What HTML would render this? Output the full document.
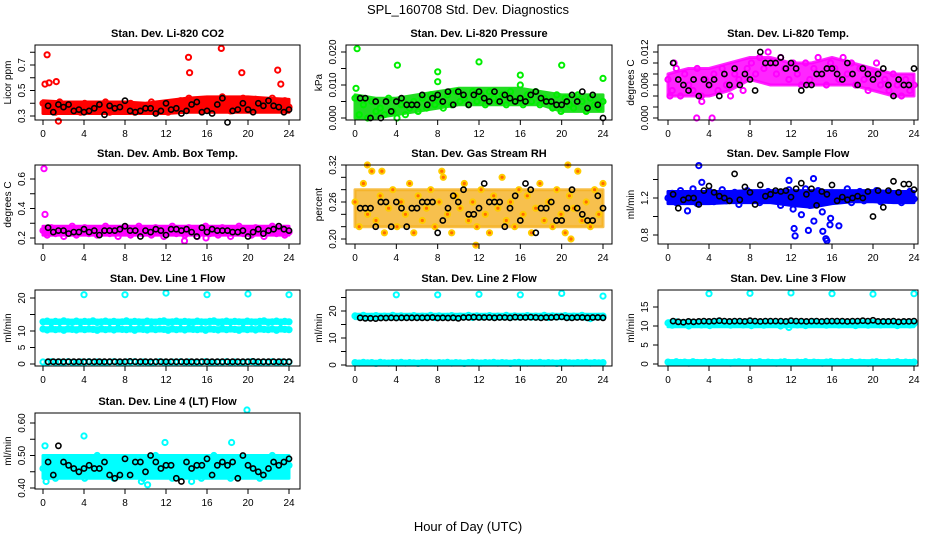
<!DOCTYPE html>
<html><head><meta charset="utf-8">
<style>
html,body{margin:0;padding:0;background:#fff;}
svg{display:block;font-family:"Liberation Sans",Arial,sans-serif;}
</style></head>
<body>
<svg id="chart" width="936" height="540" viewBox="0 0 936 540">
<text x="468" y="14" text-anchor="middle" font-size="13">SPL_160708  Std. Dev. Diagnostics</text>
<text x="468" y="531" text-anchor="middle" font-size="13">Hour of Day (UTC)</text>
</svg>
<script>
// ---- data ----
const xTicks = [0,4,8,12,16,20,24];

const co2Vals = [0.40,0.35,0.38,0.33,0.41,0.36,0.34,0.39,0.37,0.33,0.40,0.35,0.38,0.34,0.36,0.41,0.33,0.37,0.39,0.34,0.36,0.40,0.33,0.38,0.35,0.37,0.41,0.34,0.36,0.39,0.33,0.38,0.36,0.42,0.35,0.44,0.37,0.40,0.34,0.43,0.38,0.41,0.36,0.45,0.39,0.34,0.42,0.37,0.44,0.40,0.35,0.43,0.38,0.41,0.36,0.44,0.39,0.35,0.42,0.37];
const co2OutHours = [0.4,0.2,0.6,1.3,14.2,14.3,17.4,19.4,22.9,23.2,1.5];
const co2OutVals = [0.78,0.55,0.56,0.57,0.76,0.64,0.83,0.64,0.66,0.55,0.26];
const co2Black = [0.38,0.33,0.39,0.37,0.39,0.34,0.35,0.33,0.34,0.36,0.39,0.31,0.38,0.36,0.37,0.42,0.34,0.33,0.34,0.36,0.36,0.32,0.34,0.40,0.35,0.36,0.32,0.34,0.39,0.41,0.33,0.34,0.32,0.39,0.44,0.25,0.34,0.35,0.40,0.35,0.33,0.40,0.38,0.42,0.38,0.37,0.33,0.35];
const co2BandLo = [0.32,0.32,0.32,0.32,0.32,0.32,0.32,0.33,0.33,0.33,0.33,0.33,0.33];
const co2BandHi = [0.42,0.41,0.41,0.41,0.41,0.40,0.42,0.44,0.45,0.45,0.45,0.44,0.43];

const presVals = [0.006,0.001,0.004,0.000,0.005,0.002,0.003,0.001,0.006,0.002,0.000,0.004,0.001,0.003,0.005,0.002,0.006,0.003,0.007,0.004,0.005,0.003,0.007,0.004,0.008,0.005,0.006,0.004,0.008,0.005,0.007,0.004,0.008,0.006,0.005,0.007,0.004,0.008,0.005,0.006,0.004,0.007,0.005,0.008,0.004,0.006,0.005,0.003,0.007,0.002,0.006,0.004,0.003,0.007,0.005,0.002,0.006,0.004,0.003,0.005];
const presOutHours = [0.2,0.1,4.1,8.0,8.0,12.0,16.0,16.0,20.0,24.0];
const presOutVals = [0.021,0.009,0.016,0.014,0.011,0.017,0.013,0.010,0.016,0.012];
const presBlack = [0.006,0.006,0.000,0.005,0.000,0.005,0.002,0.005,0.006,0.004,0.004,0.004,0.007,0.004,0.006,0.007,0.005,0.008,0.004,0.008,0.007,0.004,0.007,0.008,0.006,0.005,0.008,0.005,0.007,0.006,0.005,0.006,0.005,0.007,0.008,0.006,0.005,0.005,0.004,0.004,0.005,0.007,0.005,0.008,0.003,0.007,0.004,0.000];
const presBandLo = [0.000,0.000,0.001,0.002,0.003,0.004,0.004,0.004,0.004,0.004,0.002,0.002,0.002];
const presBandHi = [0.007,0.006,0.006,0.007,0.008,0.009,0.009,0.009,0.009,0.008,0.007,0.007,0.007];

const tempVals = [0.007,0.005,0.009,0.004,0.008,0.006,0.005,0.009,0.004,0.007,0.006,0.008,0.005,0.009,0.006,0.004,0.008,0.007,0.005,0.009,0.010,0.008,0.011,0.009,0.012,0.010,0.008,0.011,0.009,0.007,0.010,0.008,0.006,0.010,0.007,0.009,0.011,0.008,0.006,0.010,0.009,0.007,0.011,0.008,0.010,0.006,0.009,0.007,0.005,0.008,0.010,0.006,0.007,0.005,0.008,0.006,0.004,0.007,0.005,0.006];
const tempOutHours = [2.8,4.3,3.3,0.6,0.2];
const tempOutVals = [0.000,0.000,0.003,0.010,0.004];
const tempBlack = [0.010,0.007,0.006,0.005,0.007,0.004,0.007,0.006,0.007,0.004,0.008,0.006,0.009,0.006,0.008,0.007,0.005,0.012,0.010,0.010,0.010,0.011,0.009,0.010,0.009,0.005,0.006,0.006,0.008,0.008,0.009,0.009,0.008,0.007,0.010,0.008,0.006,0.009,0.008,0.007,0.008,0.009,0.006,0.004,0.007,0.006,0.006,0.009];
const tempBandLo = [0.004,0.004,0.004,0.005,0.007,0.006,0.006,0.006,0.006,0.006,0.005,0.004,0.004];
const tempBandHi = [0.008,0.009,0.009,0.010,0.011,0.011,0.010,0.010,0.011,0.010,0.009,0.008,0.008];

const ambVals = [0.25,0.22,0.27,0.23,0.26,0.21,0.25,0.28,0.22,0.24,0.27,0.23,0.26,0.22,0.25,0.28,0.23,0.26,0.21,0.24,0.27,0.22,0.25,0.28,0.23,0.26,0.22,0.27,0.24,0.21,0.25,0.28,0.23,0.26,0.22,0.27,0.24,0.21,0.26,0.28,0.23,0.25,0.22,0.27,0.24,0.21,0.26,0.28,0.23,0.25,0.22,0.27,0.24,0.21,0.26,0.28,0.23,0.25,0.22,0.24];
const ambOutHours = [0.1,0.2,13.8,15.9];
const ambOutVals = [0.67,0.36,0.18,0.20];
const ambBlack = [0.27,0.24,0.25,0.25,0.23,0.24,0.24,0.26,0.24,0.25,0.22,0.25,0.25,0.25,0.26,0.28,0.25,0.25,0.21,0.25,0.24,0.26,0.25,0.22,0.26,0.26,0.25,0.26,0.24,0.21,0.27,0.24,0.26,0.25,0.25,0.25,0.24,0.24,0.25,0.21,0.24,0.26,0.23,0.25,0.26,0.28,0.26,0.25];
const ambBandLo = [0.22,0.22,0.22,0.22,0.22,0.22,0.22,0.22,0.22,0.22,0.22,0.22,0.22];
const ambBandHi = [0.28,0.28,0.28,0.28,0.28,0.28,0.28,0.28,0.28,0.28,0.28,0.28,0.28];

const rhVals = [0.26,0.22,0.29,0.24,0.31,0.23,0.27,0.21,0.25,0.28,0.22,0.26,0.24,0.29,0.21,0.27,0.23,0.25,0.28,0.22,0.26,0.30,0.24,0.21,0.27,0.25,0.29,0.23,0.26,0.22,0.28,0.24,0.21,0.27,0.25,0.30,0.23,0.26,0.22,0.28,0.24,0.27,0.21,0.25,0.29,0.23,0.26,0.22,0.28,0.24,0.21,0.27,0.25,0.31,0.23,0.26,0.22,0.28,0.24,0.29];
const rhOutHours = [1.2,2.6,8.4,11.7,20.6,20.9];
const rhOutVals = [0.32,0.31,0.31,0.19,0.32,0.20];
const rhBlack = [0.25,0.25,0.25,0.22,0.26,0.26,0.22,0.26,0.25,0.22,0.25,0.25,0.26,0.26,0.26,0.21,0.23,0.25,0.27,0.26,0.28,0.24,0.24,0.25,0.29,0.26,0.26,0.26,0.22,0.25,0.27,0.23,0.29,0.28,0.21,0.25,0.25,0.26,0.23,0.23,0.25,0.28,0.25,0.24,0.23,0.23,0.27,0.25];
const rhBandLo = [0.22,0.22,0.22,0.22,0.22,0.22,0.22,0.22,0.22,0.22,0.22,0.22,0.22];
const rhBandHi = [0.28,0.28,0.28,0.28,0.28,0.28,0.28,0.28,0.28,0.28,0.28,0.28,0.28];

const flowVals = [1.20,1.25,1.15,1.28,1.18,1.22,1.30,1.14,1.24,1.19,1.27,1.16,1.22,1.29,1.17,1.21,1.26,1.13,1.23,1.28,1.18,1.25,1.15,1.21,1.27,1.19,1.24,1.12,1.22,1.29,1.08,1.25,1.02,1.30,1.12,0.95,1.28,1.05,1.20,0.98,1.24,0.90,1.18,1.30,1.15,1.22,1.27,1.17,1.24,1.20,1.28,1.16,1.22,1.26,1.18,1.24,1.15,1.21,1.27,1.19];
const flowOutHours = [3.0,3.3,1.9,12.3,12.4,13.7,15.1,15.4,15.5,15.8,11.8,14.2];
const flowOutVals = [1.55,1.37,1.06,0.87,0.79,0.85,0.84,0.76,0.74,0.91,1.39,1.41];
const flowBlack = [1.24,1.09,1.18,1.20,1.20,1.13,1.28,1.33,1.26,1.22,1.20,1.17,1.46,1.18,1.32,1.26,1.13,1.34,1.22,1.24,1.28,1.27,1.28,1.21,1.30,1.36,1.24,1.30,1.12,1.27,1.24,1.34,1.17,1.21,1.18,1.20,1.22,1.20,1.27,1.00,1.28,1.10,1.28,1.38,1.26,1.35,1.35,1.29];
const flowBandLo = [1.14,1.14,1.14,1.15,1.15,1.15,1.12,1.10,1.14,1.16,1.16,1.15,1.15];
const flowBandHi = [1.27,1.27,1.27,1.27,1.28,1.28,1.28,1.28,1.28,1.28,1.28,1.27,1.27];

const l1High = [12.8,13.0,12.6,12.9,12.7,13.1,12.8,12.6,13.0,12.7,12.9,12.8,13.1,12.6,12.8,13.0,12.7,12.9,12.6,12.8,13.1,12.7,12.9,12.8,12.6,13.0,12.8,12.7,12.9,13.1,12.6,12.8,13.0,12.7,12.9,12.8,12.6,13.0,12.8,12.7,12.9,13.1,12.6,12.8,13.0,12.7,12.9,12.8,12.6,13.0,12.8,12.7,12.9,13.1,12.6,12.8,13.0,12.7,12.9,12.8];
const l1Mid = [10.6,10.3,10.8,10.4,10.6,10.2,10.7,10.5,10.3,10.8,10.4,10.6,10.5,10.2,10.7,10.4,10.6,10.3,10.8,10.5,10.4,10.6,10.2,10.7,10.5,10.3,10.8,10.4,10.6,10.5,10.2,10.7,10.4,10.6,10.3,10.8,10.5,10.4,10.6,10.2,10.7,10.5,10.3,10.8,10.4,10.6,10.5,10.2,10.7,10.4,10.6,10.3,10.8,10.5,10.4,10.6,10.2,10.7,10.5,10.4];
const l1Low = [0.6,0.4,0.7,0.5,0.6,0.3,0.7,0.5,0.4,0.6,0.5,0.7,0.4,0.6,0.5,0.3,0.6,0.7,0.5,0.4,0.6,0.5,0.7,0.4,0.6,0.5,0.3,0.6,0.7,0.5,0.4,0.6,0.5,0.7,0.4,0.6,0.5,0.3,0.6,0.7,0.5,0.4,0.6,0.5,0.7,0.4,0.6,0.5,0.3,0.6,0.7,0.5,0.4,0.6,0.5,0.7,0.4,0.6,0.5,0.6];
const l1OutHours = [4,8,12,16,20,24];
const l1OutVals = [21.0,21.0,21.5,21.0,21.2,21.0];
const l1Black = [0.7,0.7,0.7,0.7,0.7,0.7,0.7,0.7,0.7,0.7,0.7,0.7,0.7,0.7,0.7,0.7,0.8,0.7,0.7,0.7,0.7,0.7,0.7,0.7,0.7,0.7,0.7,0.7,0.7,0.7,0.7,0.7,0.7,0.7,0.7,0.7,0.7,0.7,0.7,0.7,0.8,0.7,0.7,0.7,0.7,0.7,0.7,0.7];
const l1BandTopLo = [12.3,12.3,12.3,12.3,12.3,12.3,12.3,12.3,12.3,12.3,12.3,12.3,12.3];
const l1BandTopHi = [13.3,13.3,13.3,13.3,13.3,13.3,13.3,13.3,13.3,13.3,13.3,13.3,13.3];
const l1BandMidLo = [10.0,10.0,10.0,10.0,10.0,10.0,10.0,10.0,10.0,10.0,10.0,10.0,10.0];
const l1BandMidHi = [11.0,11.0,11.0,11.0,11.0,11.0,11.0,11.0,11.0,11.0,11.0,11.0,11.0];

const l2High = [18.2,17.8,18.4,17.6,18.0,18.3,17.7,18.1,17.9,18.4,17.6,18.2,17.8,18.0,18.3,17.7,18.1,17.9,18.4,17.6,18.2,17.8,18.0,18.3,17.7,18.1,17.9,18.4,17.6,18.2,17.8,18.0,18.3,17.7,18.1,17.9,18.4,17.6,18.2,17.8,18.0,18.3,17.7,18.1,17.9,18.4,17.6,18.2,17.8,18.0,18.3,17.7,18.1,17.9,18.4,17.6,17.2,17.8,18.0,18.1];
const l2Low = [0.9,0.7,1.0,0.8,0.9,0.6,1.0,0.8,0.7,0.9,0.8,1.0,0.7,0.9,0.8,0.6,0.9,1.0,0.8,0.7,0.9,0.8,1.0,0.7,0.9,0.8,0.6,0.9,1.0,0.8,0.7,0.9,0.8,1.0,0.7,0.9,0.8,0.6,0.9,1.0,0.8,0.7,0.9,0.8,1.0,0.7,0.9,0.8,0.6,0.9,1.0,0.8,0.7,0.9,0.8,1.0,0.7,0.9,0.8,0.9];
const l2OutHours = [4,8,12,16,20,24];
const l2OutVals = [26.0,26.0,26.2,26.0,26.5,25.5];
const l2Black = [17.5,17.3,17.3,17.2,17.4,17.4,17.5,17.4,17.5,17.5,17.5,17.5,17.5,17.5,17.6,17.4,17.5,17.4,17.5,17.3,17.6,17.6,17.7,17.6,17.6,17.6,17.5,17.6,17.6,17.5,17.7,17.6,17.6,17.7,17.6,17.5,17.6,17.6,17.7,17.8,17.5,17.5,17.6,17.6,17.5,17.6,17.6,17.5];
const l2BandTopLo = [17.2,17.2,17.2,17.2,17.2,17.2,17.2,17.2,17.2,17.2,17.2,17.2,17.2];
const l2BandTopHi = [18.8,18.8,18.8,18.8,18.8,18.8,18.8,18.8,18.8,18.8,18.8,18.8,18.8];
const l2BandLowLo = [0.2,0.2,0.2,0.2,0.2,0.2,0.2,0.2,0.2,0.2,0.2,0.2,0.2];
const l2BandLowHi = [1.4,1.4,1.4,1.4,1.4,1.4,1.4,1.4,1.4,1.4,1.4,1.4,1.4];

const l3High = [10.8,10.2,11.1,10.4,10.7,10.0,11.0,10.5,10.3,10.9,10.1,10.6,11.2,10.4,10.8,10.2,10.6,11.0,10.3,10.7,10.1,10.9,10.5,10.2,11.0,10.4,10.7,10.0,10.8,9.6,10.6,10.3,10.9,10.1,10.7,11.1,10.4,10.6,10.2,10.9,10.5,10.3,11.0,10.4,10.7,10.1,10.8,10.5,10.2,10.9,10.6,10.3,11.0,10.4,10.7,10.1,10.8,10.5,10.3,10.6];
const l3Low = [0.5,0.3,0.6,0.4,0.5,0.2,0.6,0.4,0.3,0.5,0.4,0.6,0.3,0.5,0.4,0.2,0.5,0.6,0.4,0.3,0.5,0.4,0.6,0.3,0.5,0.4,0.2,0.5,0.6,0.4,0.3,0.5,0.4,0.6,0.3,0.5,0.4,0.2,0.5,0.6,0.4,0.3,0.5,0.4,0.6,0.3,0.5,0.4,0.2,0.5,0.6,0.4,0.3,0.5,0.4,0.6,0.3,0.5,0.4,0.5];
const l3OutHours = [4,8,12,16,20,24];
const l3OutVals = [18.5,18.6,18.7,18.5,18.4,18.5];
const l3Black = [11.3,11.1,11.0,11.2,11.1,11.2,11.3,11.2,11.3,11.4,11.3,11.2,11.3,11.3,11.2,11.4,11.3,11.2,11.3,11.3,11.3,11.3,11.2,11.4,11.3,11.3,11.2,11.3,11.3,11.2,11.3,11.3,11.3,11.3,11.2,11.3,11.3,11.4,11.3,11.5,11.2,11.2,11.2,11.3,11.1,11.2,11.2,11.3];
const l3BandTopLo = [9.8,9.8,9.8,9.8,9.8,9.8,9.8,9.8,9.8,9.8,9.8,9.8,9.8];
const l3BandTopHi = [11.4,11.4,11.4,11.4,11.4,11.4,11.4,11.4,11.4,11.4,11.4,11.4,11.4];
const l3BandLowLo = [0.0,0.0,0.0,0.0,0.0,0.0,0.0,0.0,0.0,0.0,0.0,0.0,0.0];
const l3BandLowHi = [0.9,0.9,0.9,0.9,0.9,0.9,0.9,0.9,0.9,0.9,0.9,0.9,0.9];

const l4Vals = [0.46,0.44,0.48,0.43,0.47,0.45,0.49,0.44,0.46,0.48,0.43,0.47,0.45,0.50,0.44,0.46,0.48,0.43,0.47,0.45,0.49,0.44,0.46,0.48,0.43,0.47,0.45,0.50,0.44,0.46,0.48,0.43,0.47,0.45,0.49,0.44,0.46,0.48,0.43,0.47,0.45,0.50,0.44,0.46,0.48,0.43,0.47,0.45,0.49,0.44,0.46,0.48,0.43,0.47,0.45,0.50,0.44,0.46,0.48,0.47];
const l4OutHours = [0.2,4.0,11.9,18.4,19.9,9.6,10.2,14.5,0.3];
const l4OutVals = [0.53,0.56,0.54,0.54,0.64,0.42,0.41,0.42,0.42];
const l4Black = [0.48,0.44,0.53,0.48,0.47,0.46,0.45,0.46,0.47,0.46,0.46,0.48,0.44,0.43,0.44,0.49,0.44,0.48,0.48,0.45,0.50,0.48,0.46,0.47,0.47,0.43,0.42,0.48,0.46,0.47,0.47,0.49,0.44,0.47,0.48,0.47,0.48,0.43,0.50,0.47,0.46,0.45,0.44,0.46,0.48,0.47,0.48,0.49];
const l4BandLo = [0.43,0.43,0.43,0.43,0.43,0.43,0.43,0.43,0.43,0.43,0.43,0.43,0.43];
const l4BandHi = [0.50,0.50,0.50,0.50,0.50,0.50,0.50,0.50,0.50,0.50,0.50,0.50,0.50];

// ---- layout ----
const NS = 'http://www.w3.org/2000/svg';
const svg = document.getElementById('chart');
const cols = [{bx0:35,bx1:300,x0:43,x24:289},{bx0:346,bx1:612,x0:355,x24:603},{bx0:658,bx1:918,x0:668,x24:914}];
const rows = [{by0:45,by1:120},{by0:165,by1:244},{by0:290,by1:366},{by0:413,by1:489}];

function el(tag, attrs, parent){
  const e = document.createElementNS(NS, tag);
  for (const k in attrs) e.setAttribute(k, attrs[k]);
  (parent||svg).appendChild(e);
  return e;
}

const panels = [
 {key:'co2',title:'Stan. Dev. Li-820 CO2',ylab:'Licor ppm',c:0,r:0,v0:0.3,p0:116,v1:0.7,p1:65,ticks:[0.3,0.4,0.5,0.6,0.7,0.8],labels:['0.3','0.5','0.7'],color:'#ff0000',bandColor:'#ff0000',bandOp:1,series:[co2Vals],bands:[[co2BandLo,co2BandHi]],outH:co2OutHours,outV:co2OutVals,black:co2Black},
 {key:'pressure',title:'Stan. Dev. Li-820 Pressure',ylab:'kPa',c:1,r:0,v0:0,p0:118,v1:0.02,p1:52,ticks:[0,0.005,0.01,0.015,0.02],labels:['0.000','0.010','0.020'],color:'#00ee00',bandColor:'#22dd22',bandOp:1,series:[presVals],bands:[[presBandLo,presBandHi]],outH:presOutHours,outV:presOutVals,black:presBlack},
 {key:'temp',title:'Stan. Dev. Li-820 Temp.',ylab:'degrees C',c:2,r:0,v0:0,p0:118,v1:0.012,p1:52,ticks:[0,0.002,0.004,0.006,0.008,0.01,0.012],labels:['0.000','0.006','0.012'],color:'#ff00ff',bandColor:'#ff00ff',bandOp:0.85,series:[tempVals],bands:[[tempBandLo,tempBandHi]],outH:tempOutHours,outV:tempOutVals,black:tempBlack},
 {key:'amb',title:'Stan. Dev. Amb. Box Temp.',ylab:'degrees C',c:0,r:1,v0:0.2,p0:238,v1:0.6,p1:179,ticks:[0.2,0.3,0.4,0.5,0.6],labels:['0.2','0.4','0.6'],color:'#ff00ff',bandColor:'#ff00ff',bandOp:1,series:[ambVals],bands:[[ambBandLo,ambBandHi]],outH:ambOutHours,outV:ambOutVals,black:ambBlack},
 {key:'rh',title:'Stan. Dev. Gas Stream RH',ylab:'percent',c:1,r:1,v0:0.2,p0:239,v1:0.32,p1:165,ticks:[0.2,0.22,0.24,0.26,0.28,0.3,0.32],labels:['0.20','0.26','0.32'],color:'#ffcc00',fill:'#ff6a00',bandColor:'#f5b020',bandOp:0.8,series:[rhVals],bands:[[rhBandLo,rhBandHi]],outH:rhOutHours,outV:rhOutVals,black:rhBlack},
 {key:'sample-flow',title:'Stan. Dev. Sample Flow',ylab:'ml/min',c:2,r:1,v0:0.8,p0:235,v1:1.2,p1:198,ticks:[0.8,1.0,1.2,1.4],labels:['0.8','1.2'],color:'#0000ff',bandColor:'#0000ff',bandOp:1,series:[flowVals],bands:[[flowBandLo,flowBandHi]],outH:flowOutHours,outV:flowOutVals,black:flowBlack},
 {key:'line1',title:'Stan. Dev. Line 1 Flow',ylab:'ml/min',c:0,r:2,v0:0,p0:364,v1:20,p1:298,ticks:[0,5,10,15,20],labels:['0','5','10','20'],color:'#00ffff',bandColor:'#00ffff',bandOp:1,series:[l1High,l1Mid,l1Low],bands:[[l1BandTopLo,l1BandTopHi],[l1BandMidLo,l1BandMidHi]],outH:l1OutHours,outV:l1OutVals,black:l1Black},
 {key:'line2',title:'Stan. Dev. Line 2 Flow',ylab:'ml/min',c:1,r:2,v0:0,p0:365,v1:20,p1:311,ticks:[0,5,10,15,20,25],labels:['0','10','20'],color:'#00ffff',bandColor:'#00ffff',bandOp:1,series:[l2High,l2Low],bands:[[l2BandTopLo,l2BandTopHi],[l2BandLowLo,l2BandLowHi]],outH:l2OutHours,outV:l2OutVals,black:l2Black},
 {key:'line3',title:'Stan. Dev. Line 3 Flow',ylab:'ml/min',c:2,r:2,v0:0,p0:364,v1:15,p1:307,ticks:[0,5,10,15],labels:['0','5','10','15'],color:'#00ffff',bandColor:'#00ffff',bandOp:1,series:[l3High,l3Low],bands:[[l3BandTopLo,l3BandTopHi],[l3BandLowLo,l3BandLowHi]],outH:l3OutHours,outV:l3OutVals,black:l3Black},
 {key:'line4',title:'Stan. Dev. Line 4 (LT) Flow',ylab:'ml/min',c:0,r:3,v0:0.4,p0:488,v1:0.6,p1:423,ticks:[0.4,0.45,0.5,0.55,0.6],labels:['0.40','0.50','0.60'],color:'#00ffff',bandColor:'#00ffff',bandOp:1,series:[l4Vals],bands:[[l4BandLo,l4BandHi]],outH:l4OutHours,outV:l4OutVals,black:l4Black}
];

panels.forEach(p=>{
  const col = cols[p.c], row = rows[p.r];
  const xs = h => col.x0 + (col.x24-col.x0)*h/24;
  const ys = v => p.p0 + (p.p1-p.p0)*(v-p.v0)/(p.v1-p.v0);
  const g = el('g', {});
  
  

  const t = el('text',{x:(col.bx0+col.bx1)/2,y:row.by0-8,'text-anchor':'middle','font-size':'11','font-weight':'bold'},g);
  t.textContent = p.title;
  
  

  // dense bands
  p.bands.forEach(([lo,hi])=>{
    const n = lo.length;
    const top = hi.map((v,i)=>`${xs(i*24/(n-1)).toFixed(1)},${ys(v).toFixed(1)}`);
    const bot = lo.map((v,i)=>`${xs(i*24/(n-1)).toFixed(1)},${ys(v).toFixed(1)}`).reverse();
    const pg = el('polygon',{points:top.concat(bot).join(' '),fill:p.bandColor,'fill-opacity':p.bandOp,stroke:p.bandColor,'stroke-width':3,'stroke-linejoin':'round','stroke-opacity':p.bandOp},g);
    
    
  });

  // points
  const pts = el('g',{},g);
  
  
  const dot = (h,v,stroke,fill,sw)=>{
    const c = el('circle',{cx:xs(h).toFixed(1),cy:ys(v).toFixed(1),r:2.6,fill:fill||'none',stroke:stroke,'stroke-width':sw},pts);
    
    
  };
  p.series.forEach(arr=>{
    arr.forEach((v,i)=>dot(i*24/(arr.length-1), v, p.color, p.fill, 2));
  });
  p.outH.forEach((h,i)=>dot(h, p.outV[i], p.color, p.fill, 2));
  p.black.forEach((v,i)=>dot(0.5 + i*23.5/(p.black.length-1), v, '#000', 'none', 1.6));

  // box
  const b = el('rect',{x:col.bx0,y:row.by0,width:col.bx1-col.bx0,height:row.by1-row.by0,fill:'none',stroke:'#000','stroke-width':1},g);
  
  

  // x axis
  const xa = el('g',{},g);
  
  
  xTicks.forEach(tk=>{
    el('line',{x1:xs(tk),x2:xs(tk),y1:row.by1,y2:row.by1+5,stroke:'#000'},xa);
    const tl = el('text',{x:xs(tk),y:row.by1+17,'text-anchor':'middle','font-size':'10'},xa);
    tl.textContent = tk;
  });

  // y axis
  const ya = el('g',{},g);
  
  
  p.ticks.forEach(tk=>{
    el('line',{x1:col.bx0,x2:col.bx0-5,y1:ys(tk),y2:ys(tk),stroke:'#000'},ya);
  });
  p.labels.forEach(lb=>{
    const v = parseFloat(lb), y = ys(v), x = col.bx0-10;
    const tl = el('text',{x:x,y:y,'text-anchor':'middle','font-size':'10',transform:`rotate(-90 ${x} ${y})`},ya);
    tl.textContent = lb;
  });
  const yx = col.bx0-24, yy = (row.by0+row.by1)/2;
  const yl = el('text',{x:yx,y:yy,'text-anchor':'middle','font-size':'10',transform:`rotate(-90 ${yx} ${yy})`},g);
  yl.textContent = p.ylab;
  
  
});
</script>
</body></html>
